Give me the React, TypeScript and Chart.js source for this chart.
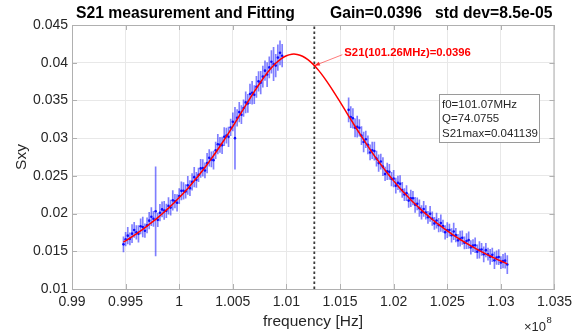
import { useEffect, useRef } from 'react';
import { Chart, registerables } from 'chart.js';

Chart.register(...registerables);

const FONT = '"Liberation Sans", Arial, Helvetica, sans-serif';

// Frequency axis is in units of 1e8 Hz
const X_TICKS = [0.99, 0.995, 1.0, 1.005, 1.01, 1.015, 1.02, 1.025, 1.03, 1.035];
const X_TICK_LABELS = ['0.99', '0.995', '1', '1.005', '1.01', '1.015', '1.02', '1.025', '1.03', '1.035'];
const Y_TICKS = [0.01, 0.015, 0.02, 0.025, 0.03, 0.035, 0.04, 0.045];
const Y_TICK_LABELS = ['0.01', '0.015', '0.02', '0.025', '0.03', '0.035', '0.04', '0.045'];

// Measured sweep below resonance
const LEFT_FREQ = [
  0.9948, 0.995, 0.9952, 0.9954, 0.9956, 0.9958, 0.996, 0.9962, 0.9964, 0.9966,
  0.9968, 0.997, 0.9972, 0.9974, 0.9976, 0.9978, 0.998, 0.9982, 0.9984, 0.9986,
  0.9988, 0.999, 0.9992, 0.9994, 0.9996, 0.9998, 1.0, 1.0002, 1.0004, 1.0006,
  1.0008, 1.001, 1.0012, 1.0014, 1.0016, 1.0018, 1.002, 1.0022, 1.0024, 1.0026,
  1.0028, 1.003, 1.0032, 1.0034, 1.0036, 1.0038, 1.004, 1.0042, 1.0044, 1.0046,
  1.0048, 1.005, 1.0052, 1.0054, 1.0056, 1.0058, 1.006, 1.0062, 1.0064, 1.0066,
  1.0068, 1.007, 1.0072, 1.0074, 1.0076, 1.0078, 1.008, 1.0082, 1.0084, 1.0086,
  1.0088, 1.009, 1.0092, 1.0094, 1.0096,
];
const LEFT_S = [
  0.01592, 0.0166, 0.01707, 0.01665, 0.01734, 0.01783, 0.01752, 0.01731, 0.01831, 0.01822,
  0.01773, 0.01844, 0.01906, 0.01958, 0.0193, 0.0203, 0.01917, 0.02011, 0.02055, 0.02041,
  0.02036, 0.02102, 0.02079, 0.02176, 0.02164, 0.02143, 0.02232, 0.02301, 0.02302, 0.02293,
  0.02374, 0.02337, 0.0242, 0.02483, 0.02448, 0.02513, 0.02599, 0.02605, 0.02572, 0.0267,
  0.02739, 0.02718, 0.02708, 0.02839, 0.0292, 0.02912, 0.02905, 0.03019, 0.03033, 0.03017,
  0.03142, 0.03217, 0.03, 0.03269, 0.03345, 0.03311, 0.03398, 0.03474, 0.0346, 0.03586,
  0.03602, 0.03576, 0.0368, 0.03753, 0.03735, 0.03816, 0.03895, 0.03843, 0.03938, 0.04012,
  0.03983, 0.03962, 0.04068, 0.04131, 0.04093,
];
const LEFT_ERR = [
  0.001, 0.0009, 0.0011, 0.0008, 0.0012, 0.001, 0.0009, 0.0011, 0.001, 0.0013,
  0.0009, 0.001, 0.0011, 0.0012, 0.001, 0.0059, 0.0009, 0.0011, 0.001, 0.0012,
  0.0009, 0.0011, 0.001, 0.0013, 0.0009, 0.0011, 0.001, 0.0012, 0.0011, 0.0009,
  0.0012, 0.001, 0.0011, 0.0013, 0.001, 0.0009, 0.0012, 0.0011, 0.001, 0.0013,
  0.0011, 0.001, 0.0012, 0.0011, 0.0013, 0.001, 0.0011, 0.0012, 0.001, 0.0013,
  0.0011, 0.0012, 0.0041, 0.0011, 0.0013, 0.0012, 0.0011, 0.0014, 0.0012, 0.0013,
  0.0015, 0.0012, 0.0014, 0.0013, 0.0015, 0.0014, 0.0013, 0.0016, 0.0014, 0.0015,
  0.0022, 0.0015, 0.0017, 0.0016, 0.0015,
];

// Measured sweep above resonance
const RIGHT_FREQ = [
  1.0158, 1.016, 1.0162, 1.0164, 1.0166, 1.0168, 1.017, 1.0172, 1.0174, 1.0176,
  1.0178, 1.018, 1.0182, 1.0184, 1.0186, 1.0188, 1.019, 1.0192, 1.0194, 1.0196,
  1.0198, 1.02, 1.0202, 1.0204, 1.0206, 1.0208, 1.021, 1.0212, 1.0214, 1.0216,
  1.0218, 1.022, 1.0222, 1.0224, 1.0226, 1.0228, 1.023, 1.0232, 1.0234, 1.0236,
  1.0238, 1.024, 1.0242, 1.0244, 1.0246, 1.0248, 1.025, 1.0252, 1.0254, 1.0256,
  1.0258, 1.026, 1.0262, 1.0264, 1.0266, 1.0268, 1.027, 1.0272, 1.0274, 1.0276,
  1.0278, 1.028, 1.0282, 1.0284, 1.0286, 1.0288, 1.029, 1.0292, 1.0294, 1.0296,
  1.0298, 1.03, 1.0302, 1.0304, 1.0306,
];
const RIGHT_S = [
  0.03375, 0.03279, 0.03263, 0.03137, 0.03152, 0.03137, 0.03033, 0.02949, 0.02985, 0.02912,
  0.0281, 0.02839, 0.02828, 0.02728, 0.02669, 0.0269, 0.02622, 0.02525, 0.02559, 0.02553,
  0.02458, 0.02463, 0.0237, 0.02407, 0.02394, 0.02313, 0.02252, 0.02271, 0.02172, 0.02203,
  0.02204, 0.02116, 0.02129, 0.02072, 0.02016, 0.02061, 0.02015, 0.01951, 0.01997, 0.01933,
  0.0187, 0.01908, 0.01846, 0.01874, 0.01833, 0.01752, 0.01781, 0.01781, 0.01712, 0.01763,
  0.01714, 0.01645, 0.01667, 0.0168, 0.01612, 0.01635, 0.01648, 0.01552, 0.01576, 0.0158,
  0.01495, 0.01519, 0.01524, 0.0146, 0.01515, 0.01461, 0.01427, 0.01453, 0.0138, 0.01417,
  0.01424, 0.01351, 0.01369, 0.01376, 0.01324,
];
const RIGHT_ERR = [
  0.0016, 0.0014, 0.0013, 0.0012, 0.0014, 0.0011, 0.0012, 0.0013, 0.0011, 0.0012,
  0.001, 0.0011, 0.0012, 0.001, 0.0011, 0.001, 0.0012, 0.0009, 0.0011, 0.001,
  0.0009, 0.0011, 0.001, 0.0009, 0.0011, 0.001, 0.0008, 0.001, 0.0009, 0.0011,
  0.0009, 0.001, 0.0008, 0.0011, 0.0009, 0.001, 0.0009, 0.0008, 0.001, 0.0009,
  0.0008, 0.001, 0.0009, 0.0011, 0.0008, 0.0009, 0.001, 0.0008, 0.0009, 0.0011,
  0.0009, 0.0008, 0.001, 0.0009, 0.0008, 0.001, 0.0011, 0.0009, 0.0008, 0.001,
  0.0009, 0.0011, 0.0008, 0.001, 0.0009, 0.0008, 0.001, 0.0009, 0.0011, 0.0009,
  0.001, 0.0008, 0.0009, 0.001, 0.0012,
];

// Fitted resonance curve
const FIT_FREQ = [
  0.9948, 0.995, 0.9955, 0.996, 0.9965, 0.997, 0.9975, 0.998, 0.9985, 0.999,
  0.9995, 1.0, 1.0005, 1.001, 1.0015, 1.002, 1.0025, 1.003, 1.0035, 1.004,
  1.0045, 1.005, 1.0055, 1.006, 1.0065, 1.007, 1.0075, 1.008, 1.0085, 1.009,
  1.0095, 1.01, 1.0105, 1.0107, 1.011, 1.0115, 1.012, 1.0125, 1.013, 1.0135,
  1.014, 1.0145, 1.015, 1.0155, 1.016, 1.0165, 1.017, 1.0175, 1.018, 1.0185,
  1.019, 1.0195, 1.02, 1.0205, 1.021, 1.0215, 1.022, 1.0225, 1.023, 1.0235,
  1.024, 1.0245, 1.025, 1.0255, 1.026, 1.0265, 1.027, 1.0275, 1.028, 1.0285,
  1.029, 1.0295, 1.03, 1.0305, 1.0306,
];
const FIT_S = [
  0.016222, 0.016395, 0.016846, 0.017319, 0.017816, 0.018339, 0.018888, 0.019468, 0.020079, 0.020722,
  0.021401, 0.022117, 0.022872, 0.023667, 0.024505, 0.025386, 0.026312, 0.027281, 0.028295, 0.029352,
  0.030445, 0.03157, 0.032718, 0.033878, 0.035033, 0.036163, 0.037246, 0.038252, 0.039153, 0.039918,
  0.040517, 0.040924, 0.041121, 0.041139, 0.041099, 0.040859, 0.040412, 0.039778, 0.038983, 0.038057,
  0.037033, 0.035942, 0.034802, 0.033646, 0.032487, 0.031344, 0.030225, 0.029137, 0.028089, 0.027085,
  0.026123, 0.025206, 0.024333, 0.023503, 0.022717, 0.02197, 0.021262, 0.020591, 0.019954, 0.01935,
  0.018776, 0.018231, 0.017714, 0.017222, 0.016753, 0.016308, 0.015883, 0.015478, 0.015092, 0.014724,
  0.01437, 0.014033, 0.013711, 0.013401, 0.013341,
];

// Marked operating point
const MARK_F = 1.0126;
const MARK_S = 0.0396;

const TITLE_LEFT = 'S21 measurement and Fitting';
const TITLE_RIGHT = 'Gain=0.0396   std dev=8.5e-05';
const MARK_LABEL = 'S21(101.26MHz)=0.0396';
const INFO_LINES = ['f0=101.07MHz', 'Q=74.0755', 'S21max=0.041139'];

const AXIS_COLOR = '#b0b0b0';
const TEXT_COLOR = '#262626';

const decorations = {
  id: 'decorations',
  afterDraw(chart: any) {
    const { ctx, chartArea: a, scales } = chart;
    const xs = scales.x;
    const ys = scales.y;
    ctx.save();

    // axes box and inward ticks
    ctx.strokeStyle = AXIS_COLOR;
    ctx.lineWidth = 1;
    ctx.beginPath();
    ctx.moveTo(a.left, a.top + 0.5);
    ctx.lineTo(a.right, a.top + 0.5);
    ctx.moveTo(a.right - 0.5, a.top);
    ctx.lineTo(a.right - 0.5, a.bottom);
    X_TICKS.forEach((v) => {
      const px = Math.round(xs.getPixelForValue(v)) + 0.5;
      ctx.moveTo(px, a.bottom);
      ctx.lineTo(px, a.bottom - 5);
      ctx.moveTo(px, a.top);
      ctx.lineTo(px, a.top + 5);
    });
    Y_TICKS.forEach((v) => {
      const py = Math.round(ys.getPixelForValue(v)) + 0.5;
      ctx.moveTo(a.left, py);
      ctx.lineTo(a.left + 5, py);
      ctx.moveTo(a.right, py);
      ctx.lineTo(a.right - 5, py);
    });
    ctx.stroke();

    // title
    ctx.fillStyle = '#000';
    ctx.font = `bold 15.7px ${FONT}`;
    ctx.textBaseline = 'middle';
    ctx.textAlign = 'left';
    ctx.fillText(TITLE_LEFT, 76, 13.5);
    ctx.fillText(TITLE_RIGHT, 330, 13.5);

    // axis titles
    ctx.fillStyle = TEXT_COLOR;
    ctx.font = `15.5px ${FONT}`;
    ctx.textAlign = 'center';
    ctx.fillText('frequency [Hz]', 313, 322);
    ctx.save();
    ctx.translate(22, 157);
    ctx.rotate(-Math.PI / 2);
    ctx.fillText('Sxy', 0, 0);
    ctx.restore();

    // exponent
    ctx.textAlign = 'left';
    ctx.textBaseline = 'alphabetic';
    ctx.font = `13px ${FONT}`;
    ctx.fillText('\u00d710', 524, 331);
    ctx.font = `9.5px ${FONT}`;
    ctx.fillText('8', 546.5, 323);

    // marked point annotation
    const px = xs.getPixelForValue(MARK_F);
    const py = ys.getPixelForValue(MARK_S);
    const sx = px + 28;
    const sy = py - 11;
    ctx.strokeStyle = 'rgba(255,0,0,0.65)';
    ctx.lineWidth = 0.8;
    ctx.beginPath();
    ctx.moveTo(sx, sy);
    ctx.lineTo(px, py);
    ctx.stroke();
    const ang = Math.atan2(sy - py, sx - px);
    ctx.fillStyle = 'rgba(255,0,0,0.8)';
    ctx.beginPath();
    ctx.moveTo(px, py);
    ctx.lineTo(px + 6 * Math.cos(ang + 0.35), py + 6 * Math.sin(ang + 0.35));
    ctx.lineTo(px + 6 * Math.cos(ang - 0.35), py + 6 * Math.sin(ang - 0.35));
    ctx.closePath();
    ctx.fill();
    ctx.fillStyle = '#ff0000';
    ctx.font = `bold 11.3px ${FONT}`;
    ctx.textBaseline = 'middle';
    ctx.fillText(MARK_LABEL, sx + 2, sy - 2);

    // fit parameter box
    ctx.fillStyle = '#fff';
    ctx.fillRect(439.5, 94.5, 100, 48);
    ctx.strokeStyle = '#9a9a9a';
    ctx.lineWidth = 1;
    ctx.strokeRect(439.5, 94.5, 100, 48);
    ctx.fillStyle = TEXT_COLOR;
    ctx.font = `11.5px ${FONT}`;
    ctx.textBaseline = 'middle';
    INFO_LINES.forEach((t, i) => ctx.fillText(t, 442, 104.5 + i * 14.5));

    ctx.restore();
  },
};

export default function App() {
  const ref = useRef<HTMLCanvasElement>(null);

  useEffect(() => {
    const canvas = ref.current;
    if (!canvas) return;

    const freq = [...LEFT_FREQ, ...RIGHT_FREQ];
    const meas = [...LEFT_S, ...RIGHT_S];
    const err = [...LEFT_ERR, ...RIGHT_ERR];
    const errorBars = freq.map((f, i) => ({ x: f, y: [meas[i] - err[i], meas[i] + err[i]] }));
    const points = freq.map((f, i) => ({ x: f, y: meas[i] }));
    const fit = FIT_FREQ.map((f, i) => ({ x: f, y: FIT_S[i] }));
    const marker = [
      { x: MARK_F, y: Y_TICKS[0] },
      { x: MARK_F, y: Y_TICKS[Y_TICKS.length - 1] },
    ];

    const chart = new Chart(canvas, {
      type: 'scatter',
      data: {
        datasets: [
          {
            type: 'bar',
            data: errorBars as any,
            backgroundColor: 'rgba(20,20,255,0.55)',
            borderWidth: 0,
            barThickness: 1,
            grouped: false,
            order: 4,
          } as any,
          {
            type: 'scatter',
            data: points,
            pointRadius: 1.3,
            pointBackgroundColor: 'rgba(0,0,255,0.9)',
            pointBorderWidth: 0,
            order: 3,
          },
          {
            type: 'line',
            data: marker,
            borderColor: '#3a3a3a',
            borderWidth: 1.8,
            borderDash: [2.5, 2.5],
            pointRadius: 0,
            order: 2,
          },
          {
            type: 'line',
            data: fit,
            borderColor: '#ff0000',
            borderWidth: 1.5,
            pointRadius: 0,
            cubicInterpolationMode: 'monotone',
            order: 1,
          },
        ],
      },
      options: {
        responsive: false,
        animation: false,
        events: [],
        layout: { padding: { top: 25, right: 21, left: 0, bottom: 0 } },
        plugins: {
          legend: { display: false },
          tooltip: { enabled: false },
          title: { display: false },
        },
        scales: {
          x: {
            type: 'linear',
            min: 0.99,
            max: 1.035,
            offset: false,
            afterBuildTicks: (s: any) => {
              s.ticks = X_TICKS.map((v) => ({ value: v }));
            },
            afterFit: (s: any) => {
              s.height = 45;
            },
            ticks: {
              callback: (_v: any, i: number) => X_TICK_LABELS[i],
              font: { family: FONT, size: 14 },
              color: TEXT_COLOR,
              padding: 5,
              maxRotation: 0,
              autoSkip: false,
            },
            grid: { color: '#e8e8e8', drawTicks: false, offset: false },
            border: { color: AXIS_COLOR },
          },
          y: {
            type: 'linear',
            min: 0.01,
            max: 0.045,
            afterBuildTicks: (s: any) => {
              s.ticks = Y_TICKS.map((v) => ({ value: v }));
            },
            afterFit: (s: any) => {
              s.width = 72;
            },
            ticks: {
              callback: (_v: any, i: number) => Y_TICK_LABELS[i],
              font: { family: FONT, size: 14 },
              color: TEXT_COLOR,
              padding: 4,
              autoSkip: false,
            },
            grid: { color: '#e8e8e8', drawTicks: false },
            border: { color: AXIS_COLOR },
          },
        },
      },
      plugins: [decorations],
    });

    return () => chart.destroy();
  }, []);

  return (
    <div style={{ position: 'absolute', left: 0, top: 0, width: 577, height: 334, background: '#fff' }}>
      <canvas ref={ref} width={577} height={334} style={{ display: 'block' }} />
    </div>
  );
}
